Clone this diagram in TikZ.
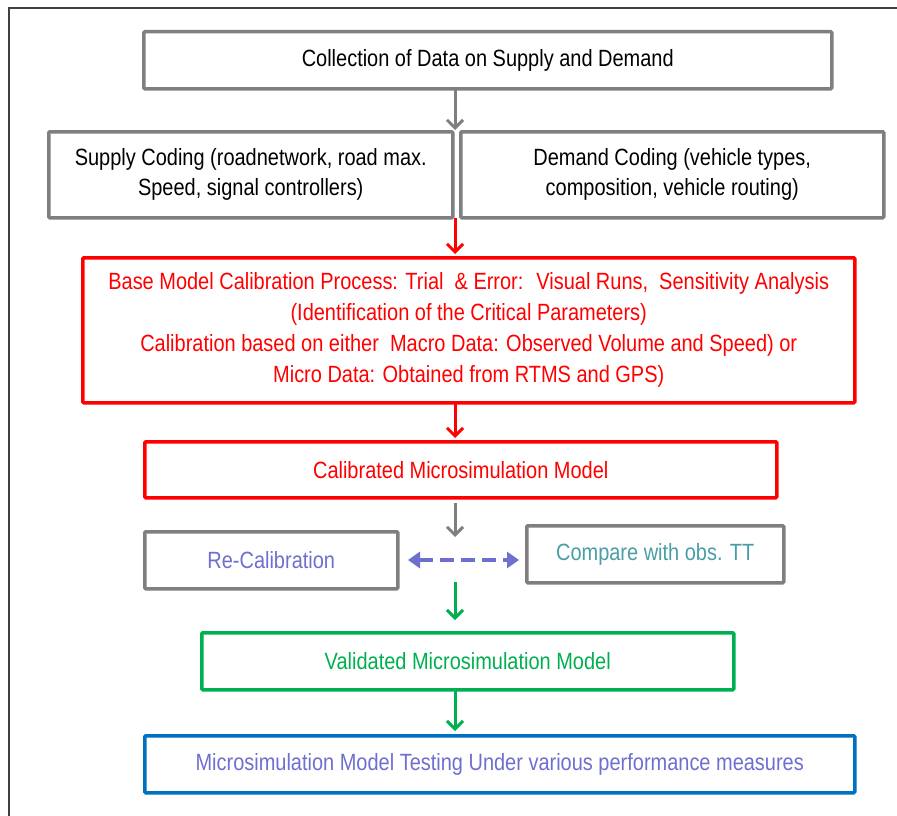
\documentclass[tikz,border=0pt]{standalone}
\usepackage{fontspec}
\setmainfont[FakeStretch=0.85]{Liberation Sans}
\usetikzlibrary{arrows.meta}
\definecolor{bxgray}{HTML}{7F7F7F}
\definecolor{bxred}{HTML}{FF0000}
\definecolor{bxgreen}{HTML}{00B050}
\definecolor{bxblue}{HTML}{0070C0}
\definecolor{txpurple}{HTML}{6F6FD0}
\definecolor{txteal}{HTML}{4A9EA6}
\begin{document}
\begin{tikzpicture}[x=1pt,y=-1pt,
  box/.style={draw, line width=3.5pt, rounded corners=1pt, inner sep=0pt, align=center,
    font=\fontsize{23.5}{30}\selectfont, anchor=north west},
  flow/.style={line width=3pt, -{Straight Barb[length=8pt,width=16pt,line width=3pt]}},
  dash2/.style={line width=4pt, dash pattern=on 14pt off 7pt, txpurple,
    {Triangle[length=12pt,width=16pt]}-{Triangle[length=12pt,width=16pt]}}
]
\useasboundingbox (0,0) rectangle (897,816);
\fill[white] (0,0) rectangle (897,816);
\draw[line width=1.5pt, black!75] (9,816) -- (9,8) -- (897,8);

\node[box, bxgray, text=black, minimum width=688pt, minimum height=57pt] (top) at (142,30) {Collection of Data on Supply and Demand};
\node[box, bxgray, text=black, minimum width=404pt, minimum height=86pt] (supply) at (47,130) {Supply Coding (roadnetwork, road max.\\Speed, signal controllers)};
\node[box, bxgray, text=black, minimum width=423pt, minimum height=86pt] (demand) at (459,130) {Demand Coding (vehicle types,\\composition, vehicle routing)};
\node[box, bxred, text=bxred, minimum width=772pt, minimum height=145pt, font=\fontsize{23.5}{31}\selectfont] (base) at (81,256) {Base Model Calibration Process: Trial~ \& Error:~ Visual Runs,~ Sensitivity Analysis\\(Identification of the Critical Parameters)\\Calibration based on either~ Macro Data: Observed Volume and Speed) or\\Micro Data: Obtained from RTMS and GPS)};
\node[box, bxred, text=bxred, minimum width=632pt, minimum height=56pt] (calib) at (143,440) {Calibrated Microsimulation Model};
\node[box, bxgray, text=txpurple, minimum width=253pt, minimum height=57pt] (recal) at (143,530) {Re-Calibration};
\node[box, bxgray, text=txteal, minimum width=257pt, minimum height=57pt] (comp) at (525,524) {Compare with obs. TT};
\node[box, bxgreen, text=bxgreen, minimum width=532pt, minimum height=57pt] (valid) at (200,631) {Validated Microsimulation Model};
\node[box, bxblue, text=txpurple, minimum width=710pt, minimum height=57pt] (test) at (143,734) {Microsimulation Model Testing Under various performance measures};

\coordinate (a1s) at (455,90);
\coordinate (a1e) at (455,130);
\coordinate (a2s) at (455,218);
\coordinate (a2e) at (455,254);
\coordinate (a3s) at (455,403);
\coordinate (a3e) at (455,438);
\coordinate (a4s) at (455,503);
\coordinate (a4e) at (455,537);
\coordinate (a5s) at (455,582);
\coordinate (a5e) at (455,620);
\coordinate (a6s) at (455,690);
\coordinate (a6e) at (455,731);
\coordinate (dl) at (408,560);
\coordinate (dr) at (519,560);

\draw[flow, bxgray] (a1s) -- (a1e);
\draw[flow, bxred] (a2s) -- (a2e);
\draw[flow, bxred] (a3s) -- (a3e);
\draw[flow, bxgray] (a4s) -- (a4e);
\draw[flow, bxgreen] (a5s) -- (a5e);
\draw[flow, bxgreen] (a6s) -- (a6e);
\draw[dash2] (dl) -- (dr);
\end{tikzpicture}
\end{document}
